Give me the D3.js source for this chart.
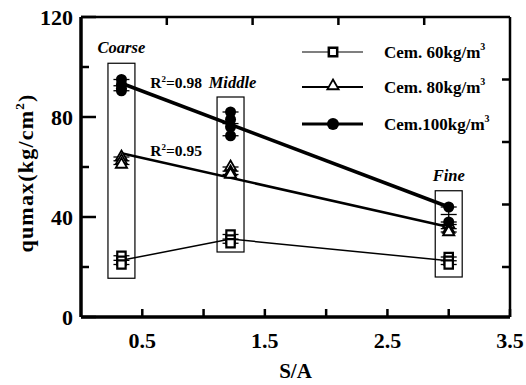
<!DOCTYPE html>
<html>
<head>
<meta charset="utf-8">
<script src="https://cdn.jsdelivr.net/npm/d3@7"></script>
<style>
  body { margin: 0; background: #fff; }
  text { font-family: "Liberation Serif", "Times New Roman", serif; font-weight: bold; }
</style>
</head>
<body>
<div id="chart"></div>
<script>
// data
const groups = ["Coarse", "Middle", "Fine"];
const sa = [0.33, 1.22, 3.0];
const cem60 = [[24.5, 22.5, 21], [33, 31, 29.5], [24, 22.5, 21]];
const cem80 = [[64, 62.5, 61], [60, 58, 57], [37, 35, 34]];
const cem100 = [[95, 93, 91.5, 90.5], [82, 79, 76, 72.5], [44, 38]];
const fit80 = [65.5, 36];
const fit100 = [93.5, 44];
const boxX = [[0.22, 0.44], [1.11, 1.33], [2.89, 3.11]];
const boxY = [[15.5, 101.5], [26, 88], [16, 50.5]];
const xTicks = [0.5, 1.0, 1.5, 2.0, 2.5, 3.0, 3.5];
const xLabels = [0.5, 1.5, 2.5, 3.5];
const topTicks = [0.7, 1.4, 2.1, 2.8];
const yTicks = [0, 20, 40, 60, 80, 100, 120];
const yLabels = [0, 40, 80, 120];
const rightTicks = [20, 45, 70, 95];
const legendNames = ["Cem. 60kg/m", "Cem. 80kg/m", "Cem.100kg/m"];

const width = 526, height = 385;
const mLeft = 81, mRight = 510, mTop = 17, mBottom = 317;

const x = d3.scaleLinear([0, 3.5], [mLeft, mRight]);
const y = d3.scaleLinear([0, 120], [mBottom, mTop]);

const svg = d3.select("#chart").append("svg")
  .attr("width", width)
  .attr("height", height);

// grouping boxes
svg.selectAll("rect.box")
  .data(groups)
  .join("rect")
  .attr("class", "box")
  .attr("x", (d, i) => x(boxX[i][0]))
  .attr("y", (d, i) => y(boxY[i][1]))
  .attr("width", (d, i) => x(boxX[i][1]) - x(boxX[i][0]))
  .attr("height", (d, i) => y(boxY[i][0]) - y(boxY[i][1]))
  .attr("fill", "none")
  .attr("stroke", "#000")
  .attr("stroke-width", 1.2);

// lines
const mean = a => d3.mean(a);
svg.append("path")
  .attr("d", d3.line().x((d, i) => x(sa[i])).y(d => y(mean(d)))(cem60))
  .attr("fill", "none").attr("stroke", "#000").attr("stroke-width", 1.5);

const ends = [sa[0], sa[2]];
svg.append("path")
  .attr("d", d3.line().x((d, i) => x(ends[i])).y(d => y(d))(fit80))
  .attr("fill", "none").attr("stroke", "#000").attr("stroke-width", 2.5);
svg.append("path")
  .attr("d", d3.line().x((d, i) => x(ends[i])).y(d => y(d))(fit100))
  .attr("fill", "none").attr("stroke", "#000").attr("stroke-width", 3.5);

// error bars + markers
function errorBars(series) {
  series.forEach(function(vals, i) {
    const cx = x(sa[i]);
    const lo = d3.min(vals), hi = d3.max(vals);
    const g = svg.append("g").attr("stroke", "#000").attr("stroke-width", 1.3);
    g.append("line").attr("x1", cx).attr("x2", cx).attr("y1", y(lo)).attr("y2", y(hi));
    [lo, mean(vals), hi].forEach(function(v) {
      g.append("line").attr("x1", cx - 8).attr("x2", cx + 8).attr("y1", y(v)).attr("y2", y(v));
    });
  });
}
errorBars(cem60);
errorBars(cem80);
errorBars(cem100);

function flat(series) {
  let out = [];
  series.forEach((vals, i) => vals.forEach(v => out.push({ sa: sa[i], v: v })));
  return out;
}

const sq = d3.symbol().type(d3.symbolSquare).size(70);
const tri = d3.symbol().type(d3.symbolTriangle).size(55);

svg.selectAll("path.m60")
  .data(flat(cem60))
  .join("path")
  .attr("class", "m60")
  .attr("d", sq)
  .attr("transform", d => `translate(${x(d.sa)},${y(d.v)})`)
  .attr("fill", "#fff").attr("stroke", "#000").attr("stroke-width", 2.2);

svg.selectAll("path.m80")
  .data(flat(cem80))
  .join("path")
  .attr("class", "m80")
  .attr("d", tri)
  .attr("transform", d => `translate(${x(d.sa)},${y(d.v)})`)
  .attr("fill", "#fff").attr("stroke", "#000").attr("stroke-width", 1.8);

svg.selectAll("circle.m100")
  .data(flat(cem100))
  .join("circle")
  .attr("class", "m100")
  .attr("cx", d => x(d.sa))
  .attr("cy", d => y(d.v))
  .attr("r", 5.5)
  .attr("fill", "#000");

// frame
svg.append("line").attr("x1", mLeft).attr("x2", mRight).attr("y1", mTop).attr("y2", mTop)
  .attr("stroke", "#000").attr("stroke-width", 2.5);
svg.append("line").attr("x1", mRight).attr("x2", mRight).attr("y1", mTop).attr("y2", mBottom)
  .attr("stroke", "#000").attr("stroke-width", 2.5);
svg.append("line").attr("x1", mLeft).attr("x2", mRight).attr("y1", mBottom).attr("y2", mBottom)
  .attr("stroke", "#000").attr("stroke-width", 3.5);
svg.append("line").attr("x1", mLeft).attr("x2", mLeft).attr("y1", mTop).attr("y2", mBottom)
  .attr("stroke", "#000").attr("stroke-width", 3.5);

// ticks
svg.selectAll("line.xt").data(xTicks).join("line").attr("class", "xt")
  .attr("x1", d => x(d)).attr("x2", d => x(d)).attr("y1", mBottom).attr("y2", mBottom - 8)
  .attr("stroke", "#000").attr("stroke-width", 2.5);
svg.selectAll("line.tt").data(topTicks).join("line").attr("class", "tt")
  .attr("x1", d => x(d)).attr("x2", d => x(d)).attr("y1", mTop).attr("y2", mTop + 8)
  .attr("stroke", "#000").attr("stroke-width", 2.5);
svg.selectAll("line.yt").data(yTicks).join("line").attr("class", "yt")
  .attr("x1", mLeft).attr("x2", d => mLeft + (yLabels.includes(d) ? 15 : 8))
  .attr("y1", d => y(d)).attr("y2", d => y(d))
  .attr("stroke", "#000").attr("stroke-width", 2.5);
svg.selectAll("line.rt").data(rightTicks).join("line").attr("class", "rt")
  .attr("x1", mRight).attr("x2", mRight - 8)
  .attr("y1", d => y(d)).attr("y2", d => y(d))
  .attr("stroke", "#000").attr("stroke-width", 2.5);

// tick labels
svg.selectAll("text.xl").data(xLabels).join("text").attr("class", "xl")
  .attr("x", d => x(d)).attr("y", 348)
  .attr("text-anchor", "middle").attr("font-size", 22)
  .text(d => d.toFixed(1));
svg.selectAll("text.yl").data(yLabels).join("text").attr("class", "yl")
  .attr("x", mLeft - 8).attr("y", d => y(d) + 8)
  .attr("text-anchor", "end").attr("font-size", 22)
  .text(d => d);

// axis titles
svg.append("text").attr("x", x(1.75)).attr("y", 378)
  .attr("text-anchor", "middle").attr("font-size", 21).text("S/A");
const yt = svg.append("text")
  .attr("transform", `translate(33,173) rotate(-90)`)
  .attr("text-anchor", "middle").attr("font-size", 22).attr("letter-spacing", 1.2);
yt.append("tspan").text("qumax(kg/cm");
yt.append("tspan").attr("font-size", 13).attr("dy", -9).text("2");
yt.append("tspan").attr("dy", 9).text(")");

// annotations
svg.selectAll("text.grp").data(groups).join("text").attr("class", "grp")
  .attr("x", (d, i) => i == 1 ? x(sa[i]) + 2 : x(sa[i]))
  .attr("y", (d, i) => y(boxY[i][1]) - (i == 1 ? 9 : 10))
  .attr("text-anchor", "middle").attr("font-size", 16.5).attr("font-style", "italic")
  .text(d => d);

function r2(label, xv, yv) {
  const t = svg.append("text").attr("x", x(xv)).attr("y", y(yv)).attr("font-size", 15.5);
  t.append("tspan").text("R");
  t.append("tspan").attr("font-size", 9).attr("dy", -6).text("2");
  t.append("tspan").attr("dy", 6).text("=" + label);
}
r2("0.98", 0.565, 91.5);
r2("0.95", 0.565, 64.5);

// legend
const legY = [52, 87, 124];
const legW = [1.2, 1.8, 3];
legendNames.forEach(function(name, i) {
  const g = svg.append("g");
  g.append("line").attr("x1", 302).attr("x2", 363).attr("y1", legY[i]).attr("y2", legY[i])
    .attr("stroke", "#000").attr("stroke-width", legW[i]);
  if (i == 0) {
    g.append("path").attr("d", sq).attr("transform", `translate(333,${legY[i]})`)
      .attr("fill", "#fff").attr("stroke", "#000").attr("stroke-width", 2.5);
  } else if (i == 1) {
    g.append("path").attr("d", tri).attr("transform", `translate(333,${legY[i] - 1})`)
      .attr("fill", "#fff").attr("stroke", "#000").attr("stroke-width", 1.8);
  } else {
    g.append("circle").attr("cx", 333).attr("cy", legY[i]).attr("r", 6).attr("fill", "#000");
  }
  const t = g.append("text").attr("x", 384).attr("y", legY[i] + 6).attr("font-size", 17);
  t.append("tspan").text(name);
  t.append("tspan").attr("font-size", 10).attr("dy", -8).text("3");
});
</script>
</body>
</html>
